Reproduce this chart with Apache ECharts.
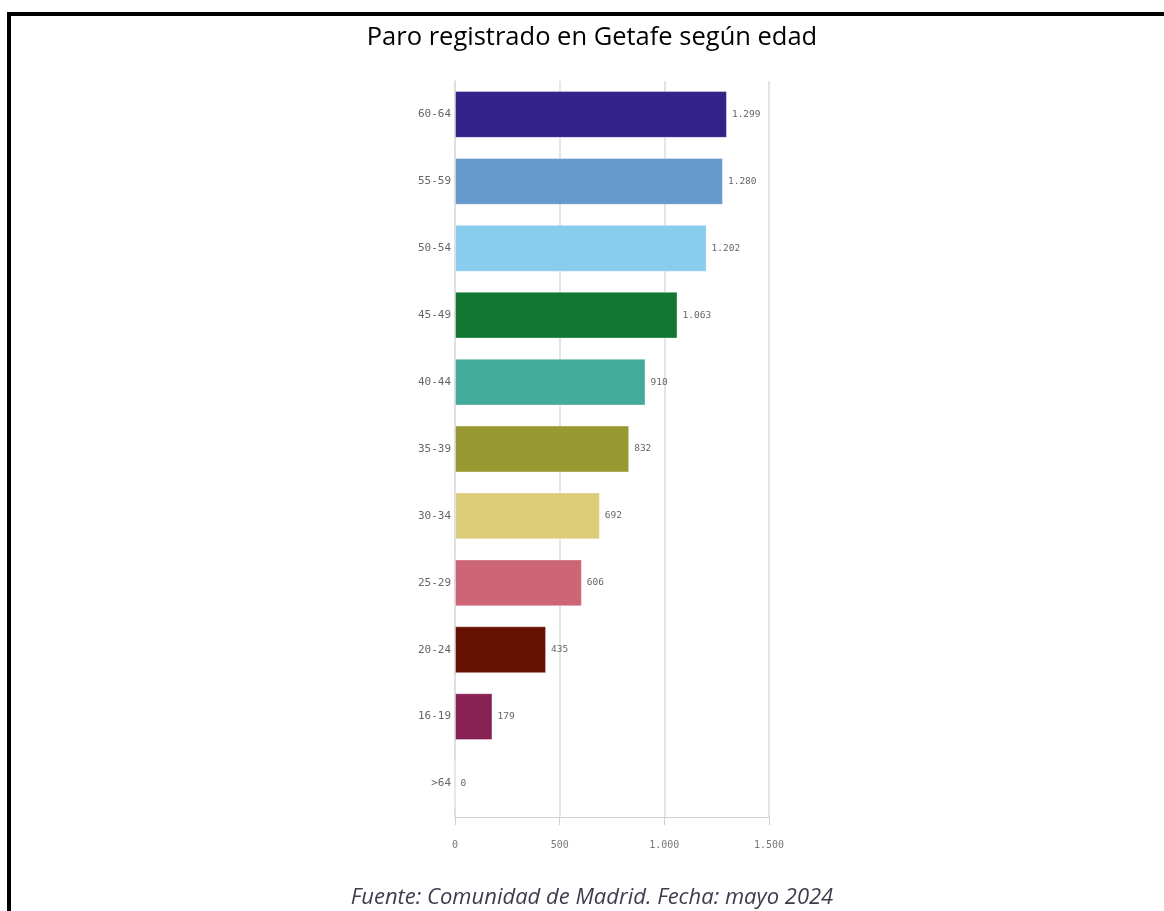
<!DOCTYPE html>
<html>
<head>
<meta charset="utf-8">
<script src="https://cdn.jsdelivr.net/npm/echarts@6/dist/echarts.min.js"></script>
<style>
html,body{margin:0;padding:0;background:#fff;}
#chart{width:1164px;height:911px;}
</style>
</head>
<body>
<div id="chart"></div>
<script>
const categories = ['60-64','55-59','50-54','45-49','40-44','35-39','30-34','25-29','20-24','16-19','>64'];
const values = [1299,1280,1202,1063,910,832,692,606,435,179,0];
const barColors = ['#332288','#6699cc','#88ccee','#117733','#44aa99','#999933','#ddcc77','#cc6677','#661100','#882255','#aa4499'];
const titleText = 'Paro registrado en Getafe según edad';
const sourceText = 'Fuente: Comunidad de Madrid. Fecha: mayo 2024';

function fmt(v){ return String(v).replace(/\B(?=(\d{3})+(?!\d))/g, '.'); }

const chart = echarts.init(document.getElementById('chart'));
chart.setOption({
  animation:false,
  backgroundColor:'#fff',
  graphic:[
    {type:'line',shape:{x1:7,y1:14,x2:1164,y2:14},style:{stroke:'#000',lineWidth:4}},
    {type:'line',shape:{x1:9,y1:12,x2:9,y2:911},style:{stroke:'#000',lineWidth:4}},
    {type:'text',x:592,y:38,style:{text:titleText,align:'center',verticalAlign:'middle',fontFamily:'Open Sans',fontSize:25.5,fill:'#000'}},
    {type:'text',x:592,y:898,style:{text:sourceText,align:'center',verticalAlign:'middle',fontFamily:'Open Sans',fontStyle:'italic',fontSize:22,fill:'#3d3d4d'}}
  ],
  grid:{left:455,right:395,top:81,bottom:94,containLabel:false},
  xAxis:{
    type:'value',min:0,max:1500,interval:500,
    axisLine:{show:true,lineStyle:{color:'#d0d0d0',width:1}},
    axisTick:{show:true,length:8,lineStyle:{color:'#d0d0d0'}},
    axisLabel:{margin:23,fontFamily:'DejaVu Sans Mono',fontSize:10,color:'#777',formatter:fmt},
    splitLine:{show:true,lineStyle:{color:'#dcdcdc',width:1.5}}
  },
  yAxis:{
    type:'category',data:categories,inverse:true,
    axisLine:{show:true,lineStyle:{color:'#dcdcdc',width:1.5}},
    axisTick:{show:false},
    axisLabel:{margin:4,fontFamily:'DejaVu Sans Mono',fontSize:11,color:'#666'}
  },
  series:[{
    type:'bar',
    data:values.map((v,i)=>({value:v,itemStyle:{color:barColors[i]}})),
    barWidth:'70%',
    barMinWidth:1,
    itemStyle:{borderColor:'rgba(255,255,255,0.35)',borderWidth:1},
    label:{show:true,position:'right',distance:5,fontFamily:'DejaVu Sans Mono',fontSize:9.5,color:'#666',formatter:p=>fmt(p.value)}
  }]
});
</script>
</body>
</html>
